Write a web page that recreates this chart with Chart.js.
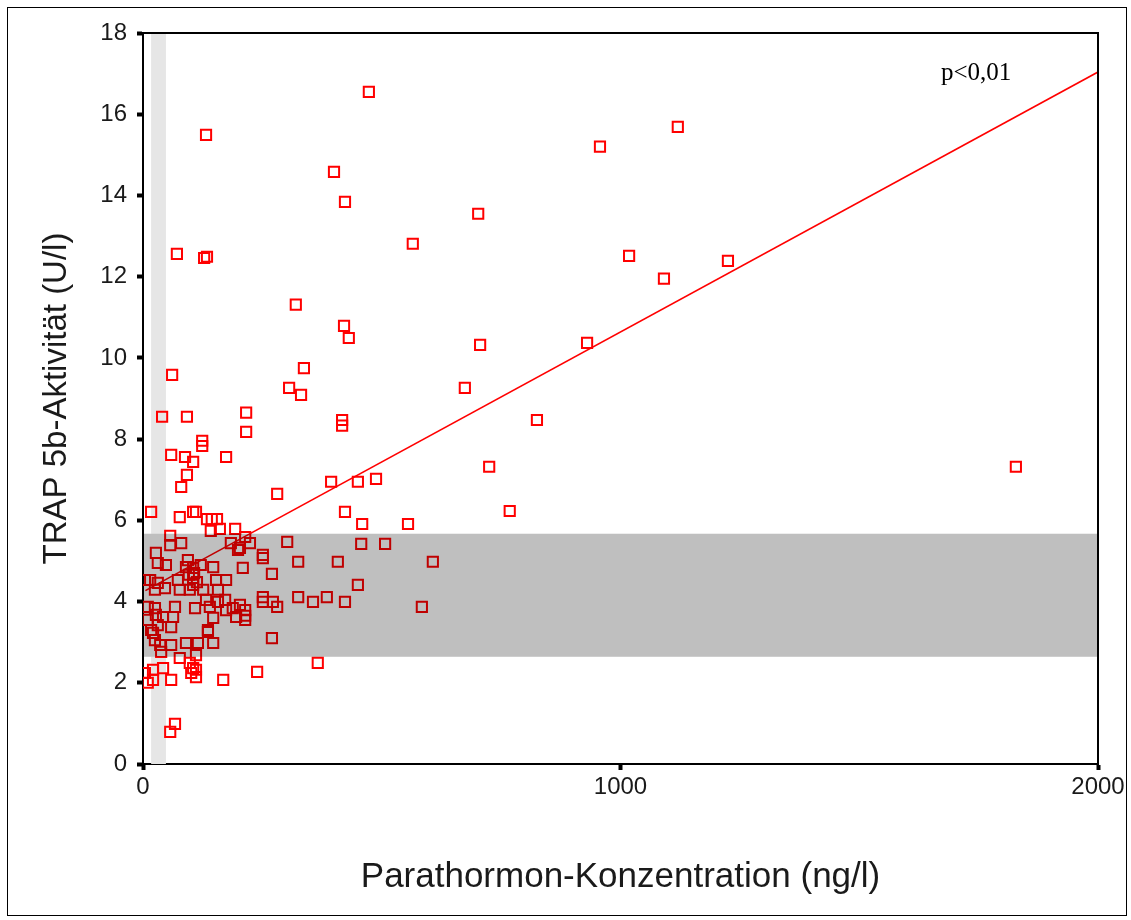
<!DOCTYPE html>
<html>
<head>
<meta charset="utf-8">
<script src="https://cdn.jsdelivr.net/npm/chart.js@4.4.1/dist/chart.umd.min.js"></script>
<style>
  html, body { margin: 0; padding: 0; background: #fff; }
  #wrap { width: 1131px; height: 920px; }
</style>
</head>
<body>
<div id="wrap"><canvas id="chart" width="1131" height="920"></canvas></div>
<script>
// PTH (ng/l) vs TRAP 5b (U/l)
var pthValues = [
  132, 473, 400, 423, 1120, 957, 702, 565, 1018, 1091, 1225, 71, 128, 134, 320, 421, 431, 706, 930, 337,
  61, 306, 331, 674, 40, 92, 216, 417, 417, 825, 216, 124, 124, 59, 88, 105, 92, 80, 174, 394,
  450, 488, 725, 1828, 281, 768, 423, 555, 459, 17, 77, 105, 111, 134, 144, 155, 142, 161, 193, 214,
  57, 57, 80, 27, 31, 48, 94, 90, 105, 184, 199, 121, 147, 4, 15, 31, 25, 46, 73, 77,
  105, 105, 98, 126, 132, 153, 174, 157, 140, 157, 172, 174, 188, 195, 10, 25, 42, 27, 67, 63,
  109, 59, 31, 10, 17, 136, 147, 21, 25, 36, 59, 38, 90, 115, 136, 147, 111, 4, 21, 42,
  21, 10, 59, 77, 98, 105, 111, 111, 101, 168, 67, 57, 224, 203, 302, 209, 251, 251, 325, 408,
  457, 507, 607, 270, 450, 325, 356, 385, 423, 584, 251, 251, 272, 281, 203, 214, 214, 214, 270, 366,
  239, 107, 113, 96
];
var trapValues = [
  15.49, 16.55, 14.58, 13.84, 15.69, 15.20, 13.55, 12.81, 12.51, 11.95, 12.39, 12.56, 12.46, 12.49, 11.31, 10.79, 10.49, 10.32, 10.37, 9.75,
  9.58, 9.26, 9.09, 9.26, 8.55, 8.55, 8.65, 8.47, 8.33, 8.47, 8.18, 7.96, 7.83, 7.61, 7.56, 7.44, 7.12, 6.82, 7.56, 6.95,
  6.95, 7.02, 7.32, 7.32, 6.65, 6.23, 6.21, 5.91, 5.91, 6.21, 6.08, 6.21, 6.21, 6.03, 6.03, 6.03, 5.74, 5.79, 5.79, 5.59,
  5.62, 5.39, 5.44, 5.20, 4.95, 4.90, 5.02, 4.85, 4.83, 5.44, 5.27, 4.90, 4.85, 4.53, 4.53, 4.46, 4.29, 4.33, 4.53, 4.29,
  4.58, 4.41, 4.29, 4.29, 4.04, 4.53, 4.53, 4.29, 3.87, 3.99, 4.04, 3.79, 3.84, 3.62, 3.87, 3.84, 3.62, 3.67, 3.87, 3.62,
  3.84, 3.37, 3.42, 3.55, 3.30, 3.30, 3.60, 3.23, 3.05, 2.93, 2.93, 2.76, 2.98, 2.98, 3.25, 2.98, 2.68, 2.24, 2.32, 2.36,
  2.07, 2.00, 2.07, 2.61, 2.49, 2.36, 2.32, 2.14, 2.24, 2.07, 0.99, 0.79, 5.44, 5.32, 5.47, 4.83, 5.15, 5.07, 4.98, 4.98,
  5.42, 5.42, 4.98, 4.68, 4.41, 4.11, 3.99, 4.11, 3.99, 3.87, 4.11, 3.99, 3.99, 3.87, 3.92, 3.79, 3.65, 3.55, 3.10, 2.49,
  2.27, 4.70, 4.48, 4.66
];

// regression line end points
var fitX = [5, 2000];
var fitY = [4.27, 17.04];

// reference ranges (shaded)
var trapRange = [2.64, 5.67];
var pthRange = [17, 48];

var xTicks = [0, 1000, 2000];
var yTicks = [0, 2, 4, 6, 8, 10, 12, 14, 16, 18];

var points = pthValues.map(function (x, i) { return { x: x, y: trapValues[i] }; });
var fitLine = fitX.map(function (x, i) { return { x: x, y: fitY[i] }; });

var bands = {
  id: 'bands',
  beforeDatasetsDraw: function (chart) {
    var ctx = chart.ctx, a = chart.chartArea;
    var xs = chart.scales.x, ys = chart.scales.y;
    var x0 = xs.getPixelForValue(pthRange[0]), x1 = xs.getPixelForValue(pthRange[1]);
    var yTop = ys.getPixelForValue(trapRange[1]), yBot = ys.getPixelForValue(trapRange[0]);
    ctx.save();
    ctx.fillStyle = '#e6e6e6';
    ctx.fillRect(x0, a.top, x1 - x0, yTop - a.top);
    ctx.fillRect(x0, yBot, x1 - x0, a.bottom - yBot);
    ctx.restore();
  },
  afterDatasetsDraw: function (chart) {
    var ctx = chart.ctx, a = chart.chartArea;
    var ys = chart.scales.y;
    var yTop = ys.getPixelForValue(trapRange[1]), yBot = ys.getPixelForValue(trapRange[0]);
    ctx.save();
    ctx.fillStyle = 'rgba(0,0,0,0.25)';
    ctx.fillRect(a.left, yTop, a.right - a.left, yBot - yTop);
    ctx.restore();
  },
  afterDraw: function (chart) {
    var ctx = chart.ctx, a = chart.chartArea;
    ctx.save();
    // frame top + right
    ctx.strokeStyle = '#000';
    ctx.lineWidth = 2;
    ctx.beginPath();
    ctx.moveTo(a.left, a.top);
    ctx.lineTo(a.right, a.top);
    ctx.lineTo(a.right, a.bottom);
    ctx.stroke();
    // outer border of the figure
    ctx.lineWidth = 1;
    ctx.strokeRect(7.5, 7.5, 1119, 908);
    // p value
    ctx.fillStyle = '#000';
    ctx.font = '25px "Liberation Serif", serif';
    ctx.textBaseline = 'alphabetic';
    ctx.fillText('p<0,01', 941, 80);
    ctx.restore();
  }
};

var ctx = document.getElementById('chart').getContext('2d');
var myChart = new Chart(ctx, {
  type: 'scatter',
  data: {
    datasets: [{
      type: 'line',
      data: fitLine,
      borderColor: '#ff0000',
      borderWidth: 1.6,
      pointRadius: 0,
      fill: false
    }, {
      data: points,
      pointStyle: 'rect',
      pointRadius: 7.2,
      borderColor: '#ff0000',
      backgroundColor: 'rgba(0,0,0,0)',
      borderWidth: 2
    }]
  },
  options: {
    responsive: false,
    animation: false,
    layout: { padding: { left: 0, top: 33, right: 33, bottom: 0 } },
    plugins: { legend: { display: false }, tooltip: { enabled: false } },
    scales: {
      x: {
        type: 'linear',
        min: 0, max: 2000,
        afterFit: function (s) { s.height = 156; },
        afterBuildTicks: function (s) { s.ticks = xTicks.map(function (v) { return { value: v }; }); },
        grid: { drawOnChartArea: false, tickLength: 6, tickWidth: 4, tickColor: '#000' },
        border: { color: '#000', width: 2 },
        ticks: {
          padding: 3, color: '#1a1a1a',
          font: { family: '"Liberation Sans", Arial', size: 24 },
          callback: function (v) { return String(v); }
        },
        title: {
          display: true,
          text: 'Parathormon-Konzentration (ng/l)',
          color: '#1a1a1a',
          font: { family: '"Liberation Sans", Arial', size: 35 },
          padding: { top: 0, bottom: 22 }
        }
      },
      y: {
        min: 0, max: 18,
        afterFit: function (s) { s.width = 143; },
        afterBuildTicks: function (s) { s.ticks = yTicks.map(function (v) { return { value: v }; }); },
        grid: { drawOnChartArea: false, tickLength: 6, tickWidth: 4, tickColor: '#000' },
        border: { color: '#000', width: 2 },
        ticks: {
          padding: 10, color: '#1a1a1a',
          font: { family: '"Liberation Sans", Arial', size: 24 },
          callback: function (v) { return String(v); }
        },
        title: {
          display: true,
          text: 'TRAP 5b-Aktivität (U/l)',
          color: '#1a1a1a',
          font: { family: '"Liberation Sans", Arial', size: 33 },
          padding: { top: 37, bottom: 0 }
        }
      }
    }
  },
  plugins: [bands]
});
</script>
</body>
</html>
